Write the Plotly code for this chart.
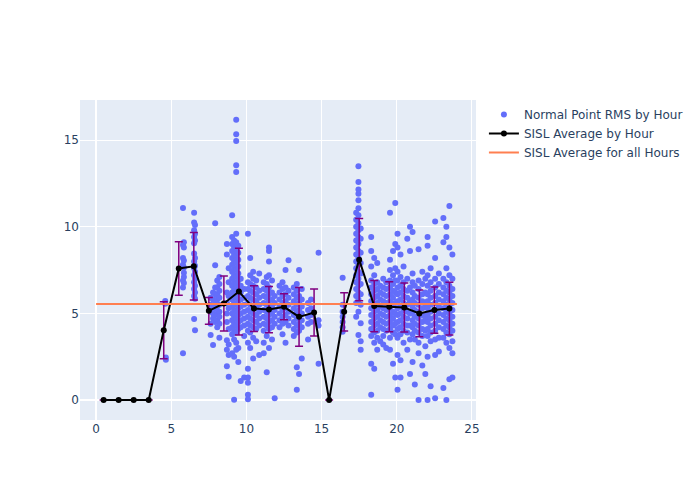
import plotly.graph_objects as go

# ---- SISL averages by hour ----
avg_hours = [0.5, 1.5, 2.5, 3.5, 4.5, 5.5, 6.5, 7.5, 8.5, 9.5, 10.5, 11.5, 12.5, 13.5, 14.5,
             15.5, 16.5, 17.5, 18.5, 19.5, 20.5, 21.5, 22.5, 23.5]
avg_values = [0, 0, 0, 0, 4.03, 7.59, 7.72, 5.15, 5.57, 6.26, 5.28, 5.22, 5.38, 4.8, 5.05,
              0, 5.09, 8.1, 5.42, 5.38, 5.34, 5.0, 5.19, 5.28]
avg_std = [0, 0, 0, 0, 1.64, 1.55, 1.95, 0.77, 1.58, 2.5, 1.32, 1.33, 0.75, 1.7, 1.35,
           0, 1.1, 2.37, 1.48, 1.44, 1.41, 1.35, 1.33, 1.52]
overall_avg = 5.54
overall_span = [0, 24]

# ---- Normal point RMS values, grouped in columns (time of day, values) ----
pts_h04 = [(4.60, [5.72, 5.55]), (4.64, [2.45, 2.32])]
pts_h05 = [(5.78, [11.08, 8.95, 8.2, 7.8, 6.9, 6.5, 2.7]),
           (5.84, [9.1, 8.8, 8.05, 7.65, 7.35, 7.1, 6.75])]
pts_h06 = [(6.52, [10.8, 10.25, 9.8, 9.4, 9.05, 8.45, 8.0, 7.6, 7.2, 6.8, 6.4, 6.0, 4.67]),
           (6.58, [10.1, 9.6, 9.2, 8.2, 7.75, 7.4, 7.0, 6.6, 6.2, 5.85, 4.03])]
pts_h07 = [(7.62, [5.9, 5.5, 5.1, 4.4, 3.75]),
           (7.78, [6.2, 5.8, 5.4, 5.0, 4.7, 3.17]),
           (7.92, [10.2, 7.78, 6.5, 6.1, 5.7, 5.3, 4.9, 4.5])]
pts_h08 = [(8.06, [6.9, 6.5, 6.1, 5.8, 5.4, 5.0, 4.6, 4.2]),
           (8.20, [7.1, 6.7, 6.3, 5.9, 5.5, 5.1, 4.8, 4.4, 3.6]),
           (8.70, [9.0, 8.4, 6.2, 5.6, 5.0, 4.5, 3.45, 2.9, 1.95]),
           (8.82, [7.6, 6.8, 6.0, 5.3, 4.1, 3.2, 2.6, 1.34])]
pts_h09 = [(9.05, [10.66, 9.4, 9.0, 8.6, 8.2, 7.8, 7.4, 7.0, 6.6, 6.2, 5.8, 5.4, 5.0, 4.6, 4.2, 3.8, 2.7]),
           (9.18, [9.2, 8.8, 8.4, 8.0, 7.6, 7.2, 6.8, 6.4, 6.0, 5.6, 5.2, 4.8, 4.4, 4.0, 3.5, 2.5, 0.02]),
           (9.32, [16.17, 15.33, 14.95, 13.54, 13.16, 9.6, 9.1, 8.7, 8.3, 7.9, 7.5, 7.1, 6.7, 6.3,
                   5.9, 5.5, 5.1, 4.7, 4.3, 3.9, 3.3, 2.9]),
           (9.46, [8.9, 8.5, 8.1, 7.7, 7.3, 6.9, 6.5, 6.1, 5.7, 5.3, 4.9, 4.5, 4.1, 3.0, 2.2]),
           (9.62, [7.0, 6.6, 6.2, 5.8, 5.4, 5.0, 4.6, 4.2, 1.1]),
           (9.85, [6.4, 5.9, 5.5, 5.1, 4.7, 4.3, 3.7, 1.3])]
pts_h10 = [(10.10, [9.6, 6.8, 6.4, 6.0, 5.6, 5.2, 4.8, 4.4, 4.0, 3.3, 1.8, 1.3, 1.0, 0.3, 0.05]),
           (10.25, [8.2, 7.2, 6.7, 6.3, 5.9, 5.5, 5.1, 4.7, 4.3, 3.9, 3.0]),
           (10.45, [7.4, 7.0, 6.6, 6.2, 5.8, 5.4, 5.0, 4.6, 4.2, 3.6, 2.4]),
           (10.65, [6.9, 6.5, 6.1, 5.7, 5.3, 4.9, 4.5, 4.1, 3.4]),
           (10.85, [7.3, 6.3, 5.9, 5.5, 5.1, 4.7, 4.3, 2.6])]
pts_h11 = [(11.15, [6.8, 6.4, 6.0, 5.6, 5.2, 4.8, 4.4, 4.0, 3.3, 2.7]),
           (11.35, [7.1, 6.7, 6.3, 5.9, 5.5, 5.1, 4.7, 4.3, 3.7, 1.6]),
           (11.50, [8.8, 8.6, 8.0, 7.2, 6.5, 6.1, 5.7, 5.3, 4.9, 4.5, 4.1, 3.0]),
           (11.70, [6.9, 6.2, 5.8, 5.4, 5.0, 4.6, 4.2, 3.5]),
           (11.88, [6.0, 5.6, 5.2, 4.8, 4.4, 0.1])]
pts_h12 = [(12.20, [6.6, 6.2, 5.8, 5.4, 5.0, 4.6, 4.2]),
           (12.40, [6.8, 6.4, 6.0, 5.6, 5.2, 4.8, 4.4, 3.8]),
           (12.60, [7.5, 6.5, 6.1, 5.7, 5.3, 4.9, 4.5, 3.3]),
           (12.80, [8.07, 6.3, 5.9, 5.5, 5.1, 4.7, 4.3])]
pts_h13 = [(13.15, [6.5, 6.1, 5.7, 5.3, 4.9, 4.5, 4.1, 3.7]),
           (13.35, [6.7, 6.3, 5.9, 5.5, 5.1, 4.7, 4.3, 3.9, 1.9, 0.6]),
           (13.50, [7.5, 6.0, 5.6, 5.2, 4.8, 4.4, 4.0, 1.5]),
           (13.68, [6.4, 5.8, 5.4, 5.0, 4.6, 4.2, 2.4])]
pts_h14 = [(14.10, [5.6, 5.2, 4.8, 4.4, 3.5]),
           (14.30, [5.8, 5.3, 4.9, 4.5]),
           (14.80, [8.5, 4.6, 4.3, 2.1])]
pts_h16 = [(16.40, [7.05, 5.5, 5.1, 4.8, 4.5, 4.2, 3.94])]
pts_h17 = [(17.30, [10.8, 10.4, 10.0, 9.6, 9.2, 8.8, 8.4, 8.0, 7.6, 7.2, 6.8, 6.4, 6.0, 5.6, 4.8]),
           (17.45, [13.49, 12.58, 12.14, 11.9, 11.53, 11.06, 10.66, 10.2, 9.8, 9.4, 9.0, 8.6, 8.2,
                    7.8, 7.4, 7.0, 6.6, 6.2, 5.8, 5.09, 3.75]),
           (17.60, [9.9, 9.3, 8.5, 7.9, 7.3, 6.7, 6.1, 5.5, 4.43, 3.4, 2.9])]
pts_h18 = [(18.30, [9.41, 8.6, 7.7, 6.9, 6.5, 6.1, 5.7, 5.3, 4.9, 4.5, 4.1, 3.7, 2.1, 0.3]),
           (18.50, [8.2, 7.2, 6.7, 6.3, 5.9, 5.5, 5.1, 4.7, 4.3, 3.9, 3.3, 1.8]),
           (18.70, [7.9, 6.8, 6.4, 6.0, 5.6, 5.2, 4.8, 4.4, 4.0, 3.6, 2.9]),
           (18.90, [6.6, 6.2, 5.8, 5.4, 5.0, 4.6, 4.2, 3.4])]
pts_h19 = [(19.10, [7.0, 6.5, 6.1, 5.7, 5.3, 4.9, 4.5, 4.1, 3.7, 3.2]),
           (19.30, [6.8, 6.4, 6.0, 5.6, 5.2, 4.8, 4.4, 4.0, 3.0]),
           (19.55, [10.8, 8.1, 7.5, 6.9, 6.5, 6.1, 5.7, 5.3, 4.9, 4.5, 4.1, 3.6, 2.9]),
           (19.75, [8.6, 7.2, 6.7, 6.3, 5.9, 5.5, 5.1, 4.7, 4.3, 3.9, 2.1]),
           (19.90, [11.37, 9.0, 7.6, 6.9, 6.2, 5.6, 5.0, 4.4, 3.8, 1.3])]
pts_h20 = [(20.05, [9.6, 8.8, 7.4, 6.9, 6.5, 6.1, 5.7, 5.3, 4.9, 4.5, 4.1, 3.6, 2.6, 0.6]),
           (20.25, [8.4, 7.1, 6.6, 6.2, 5.8, 5.4, 5.0, 4.6, 4.2, 3.8, 2.3, 1.3]),
           (20.45, [7.7, 6.8, 6.4, 6.0, 5.6, 5.2, 4.8, 4.4, 4.0, 3.3]),
           (20.70, [9.3, 7.0, 6.3, 5.9, 5.5, 5.1, 4.7, 4.3, 3.9, 2.9]),
           (20.88, [10.0, 8.6, 6.5, 5.7, 5.0, 4.3, 3.5, 1.5])]
pts_h21 = [(21.05, [9.7, 7.3, 6.8, 6.2, 5.8, 5.4, 5.0, 4.6, 4.2, 3.8, 2.2]),
           (21.20, [6.6, 6.0, 5.6, 5.2, 4.8, 4.4, 4.0, 3.5, 0.9]),
           (21.45, [8.7, 6.9, 6.4, 5.9, 5.5, 5.1, 4.7, 4.3, 3.9, 3.3, 2.7, 0.0]),
           (21.70, [7.4, 6.7, 6.1, 5.7, 5.3, 4.9, 4.5, 4.1, 3.7, 2.0]),
           (21.90, [7.0, 6.2, 5.4, 4.7, 4.0, 3.1, 1.5])]
pts_h22 = [(22.05, [9.4, 8.9, 7.2, 6.6, 6.1, 5.7, 5.3, 4.9, 4.5, 4.1, 3.7, 2.5, 0.0]),
           (22.25, [7.6, 6.8, 6.3, 5.9, 5.5, 5.1, 4.7, 4.3, 3.9, 3.4, 0.8]),
           (22.55, [10.3, 8.2, 7.0, 6.5, 6.0, 5.6, 5.2, 4.8, 4.4, 4.0, 3.5, 2.6, 0.1]),
           (22.80, [7.3, 6.7, 6.2, 5.8, 5.4, 5.0, 4.6, 4.2, 3.6, 2.8])]
pts_h23 = [(23.10, [10.5, 9.1, 7.0, 6.5, 6.1, 5.7, 5.3, 4.9, 4.5, 4.1, 3.6, 0.7]),
           (23.30, [10.0, 9.4, 7.6, 6.8, 6.3, 5.9, 5.5, 5.1, 4.7, 4.3, 3.9, 3.3, 0.0]),
           (23.50, [11.2, 8.8, 7.2, 6.6, 6.2, 5.8, 5.4, 5.0, 4.6, 4.2, 3.8, 3.0, 1.2]),
           (23.70, [8.4, 7.0, 6.4, 6.0, 5.6, 5.2, 4.8, 4.4, 4.0, 3.4, 2.7, 1.3])]

all_groups = [pts_h04, pts_h05, pts_h06, pts_h07, pts_h08, pts_h09, pts_h10, pts_h11, pts_h12,
              pts_h13, pts_h14, pts_h16, pts_h17, pts_h18, pts_h19, pts_h20, pts_h21, pts_h22, pts_h23]

px, py = [], []
for grp in all_groups:
    for xv, ys in grp:
        for yv in ys:
            px.append(xv)
            py.append(yv)

fig = go.Figure()
fig.add_trace(go.Scatter(
    x=px, y=py, mode="markers", name="Normal Point RMS by Hour",
    marker=dict(color="#636efa", size=6),
))
fig.add_trace(go.Scatter(
    x=avg_hours, y=avg_values, mode="lines+markers", name="SISL Average by Hour",
    line=dict(color="black", width=2),
    marker=dict(color="black", size=6),
    error_y=dict(type="data", array=avg_std, visible=True, color="purple", thickness=1.5, width=4),
))
fig.add_trace(go.Scatter(
    x=overall_span, y=[overall_avg, overall_avg], mode="lines", name="SISL Average for all Hours",
    line=dict(color="#ff7f50", width=2),
))
fig.update_layout(
    width=700, height=500,
    font=dict(family="DejaVu Sans"),
    xaxis=dict(range=[-1.07, 25.27], tickvals=[0, 5, 10, 15, 20, 25]),
    yaxis=dict(range=[-1.15, 17.31], tickvals=[0, 5, 10, 15]),
)
fig.write_html("out.html", config={"displayModeBar": False},
               post_script="document.body.style.margin='0';")
